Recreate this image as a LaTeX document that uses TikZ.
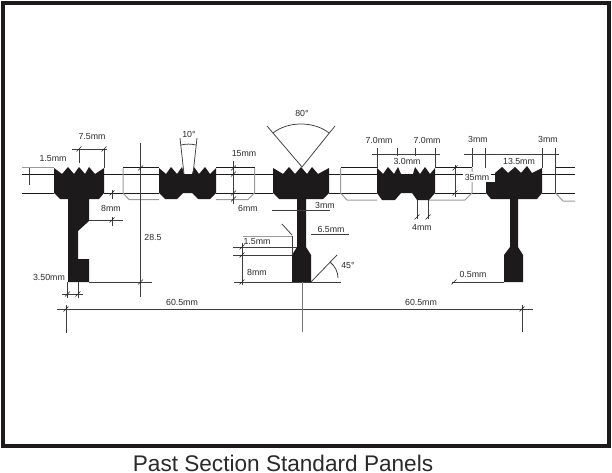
\documentclass[tikz,border=0pt]{standalone}
\usepackage{fontspec}
\setmainfont{Liberation Sans}
\definecolor{ink}{HTML}{1C1A1A}
\definecolor{gr}{HTML}{9A9A9A}
\definecolor{txt}{HTML}{2A2A2A}
\tikzset{
  dimline/.style={draw=ink!85,line width=0.75pt},
  grayline/.style={draw=gr,line width=1pt},
  blackline/.style={draw=ink,line width=0.8pt},
  section/.style={fill=ink,draw=none},
  lab/.style={font=\fontsize{8.8}{10}\selectfont,text=txt,inner sep=0pt},
  tk/.style={draw=ink,line width=0.5pt}
}
\newcommand{\ticks}[1]{\foreach \qa/\qb in {#1}{\draw[tk] (\qa-2.5,\qb+2.5) -- (\qa+2.5,\qb-2.5);}}
\begin{document}
\begin{tikzpicture}[x=1pt,y=-1pt]
\useasboundingbox (0,0) rectangle (612,473);
\fill[white] (0,0) rectangle (612,473);
% frame
\draw[ink,line width=4pt] (3,3) rectangle (609,446);

% rails: top, groove and bottom lines
\draw[blackline] (22,174) -- (54,174) (22,193) -- (54,193);
\draw[grayline] (22,167.5) -- (54,167.5);
\draw[dimline] (29,168) -- (29,185);
\draw[blackline] (104,174) -- (159,174) (104,193) -- (159,193) (123,167.5) -- (159,167.5);
\draw[grayline] (123,168) -- (123,193) -- (129,199.5) -- (159,199.5);
\draw[blackline] (216,174) -- (273,174) (216,193) -- (273,193) (216,167.5) -- (254.5,167.5);
\draw[grayline] (254.5,168) -- (254.5,193) -- (248,199.5) -- (216,199.5);
\draw[blackline] (329,174) -- (377,174) (329,193) -- (377,193) (340.5,167.5) -- (377,167.5);
\draw[grayline] (340.5,168) -- (340.5,193) -- (347,200) -- (377,200);
\draw[blackline] (435,174) -- (495,174) (435,193) -- (486,193) (435,167.5) -- (472,167.5);
\draw[grayline] (472,168) -- (472,193) -- (465,200) -- (429,200);
\draw[blackline] (542,174) -- (575,174) (542,193) -- (575,193) (555.5,167.5) -- (575,167.5);
\draw[grayline] (555.5,193) -- (563,201) -- (575,201);

% panel 1
\path[section] (54,168) -- (62,174) -- (68,167) -- (74,174) -- (79,167) -- (85,174) -- (89,167) -- (95,174) -- (104,168)
 -- (104,193) -- (99,199) -- (89,199) -- (89,221) -- (78,231) -- (78,259) -- (89,259) -- (89,282) -- (68,282) -- (68,199) -- (60,199) -- (54,193) -- cycle;
% panel 2
\path[section] (159,168) -- (166,174) -- (171,167) -- (177,174) -- (182,167) -- (184,174) -- (192,174) -- (194,167) -- (199,174) -- (205,167) -- (210,174) -- (216,168)
 -- (216,193) -- (210,199) -- (198,199) -- (192,193) -- (183,193) -- (177,199) -- (165,199) -- (159,193) -- cycle;
% panel 3
\path[section] (273,168) -- (283,174) -- (289,167) -- (295,174) -- (301,167) -- (307,174) -- (312,167) -- (318,174) -- (329,168)
 -- (329,193) -- (323,199) -- (306,199) -- (306,247) -- (311,255) -- (311,282) -- (292,282) -- (292,255) -- (297,247) -- (297,199) -- (279,199) -- (273,193) -- cycle;
% panel 4
\path[section] (377,168) -- (383,174) -- (388,167) -- (394,174) -- (398,167) -- (401,174) -- (413,174) -- (415,167) -- (420,174) -- (425,167) -- (430,174) -- (435,168)
 -- (435,193) -- (429,200) -- (417,200) -- (412,193) -- (401,193) -- (395,200) -- (382,200) -- (377,193) -- cycle;
% panel 5
\path[section] (486,182) -- (495,182) -- (495,173) -- (502,167) -- (508,173) -- (515,167) -- (521,173) -- (527,166) -- (532,173) -- (542,168)
 -- (542,193) -- (537,199) -- (518,199) -- (518,247) -- (523,255) -- (523,282) -- (504,282) -- (504,255) -- (510,247) -- (510,199) -- (491,199) -- (486,193) -- cycle;

% panel 1 dimensions
\draw[dimline] (72,149) -- (107,149) (79,149) -- (79,163) (104,149) -- (104,168);
\ticks{79/149,104/149}
\draw[dimline] (112,190) -- (112,199) (112,217) -- (112,226) (89,220) -- (123,220);
\ticks{112/193,112/220}
\draw[dimline] (140.5,143) -- (140.5,297) (89,282) -- (152,282);
\ticks{140.5/168,140.5/282}
\draw[dimline] (67.5,282) -- (67.5,298) (78,282) -- (78,298) (62,294) -- (83,294);
\ticks{67.5/294,78/294}
% panel 2 angle
\draw[dimline] (180,138) -- (184,174) (197,138) -- (193,174);
\draw[dimline] (181,145) to[bend left=12] (196,145);
% 15 / 6 mm
\draw[dimline] (233.5,161) -- (233.5,204);
\ticks{233.5/168,233.5/174,233.5/193,233.5/199}
% panel 3 dimensions
\draw[dimline] (267,126) -- (302,167) -- (335,126);
\draw[dimline] (273,133) .. controls (288,121) and (314,121) .. (329,133);
\draw[dimline] (272,210) -- (330,210);
\draw[dimline] (311,234) -- (349,234);
\draw[dimline] (282,224) -- (292,235);
\draw[grayline] (243,236) -- (292,236);
\draw[dimline] (292,236) -- (292,255);
\draw[dimline] (233,247) -- (297,247) (233,255) -- (292,255) (234,282) -- (341,282);
\draw[dimline] (242,243) -- (242,285);
\ticks{242/247,242/255,242/282}
\draw[dimline] (311,282) -- (337,255);
\draw[dimline] (330,262) .. controls (335,266) and (338,272) .. (338,278);
% panel 4 dimensions
\draw[dimline] (372,154) -- (440,154) (377,148) -- (377,168) (397.5,148) -- (397.5,156) (415,148) -- (415,156) (435,148) -- (435,168);
\draw[dimline] (455,165) -- (455,197);
\ticks{455/168,455/193}
\draw[dimline] (417,200) -- (417,219) (428,200) -- (428,219);
\ticks{417/217,428/217}
% panel 5 dimensions
\draw[dimline] (464,154) -- (559,154) (472,148) -- (472,167) (485.5,148) -- (485.5,168) (542,148) -- (542,168) (555.5,148) -- (555.5,193);
\draw[dimline] (452,282) -- (504,282);
\ticks{454/282}
% overall dimension
\draw[dimline] (57,309) -- (533,309) (66,305) -- (66,333) (522,305) -- (522,332);
\draw[draw=ink!60,line width=0.8pt] (302,282) -- (302,332);
\ticks{66/309,522/309}

% labels
\node[lab] (l1) at (53,159) {1.5mm};
\node[lab] (l2) at (92,137) {7.5mm};
\node[lab] (l3) at (189,134) {10°};
\node[lab] (l4) at (111,208) {8mm};
\node[lab] (l5) at (153,237) {28.5};
\node[lab] (l6) at (49,277) {3.50mm};
\node[lab] (l7) at (182,302) {60.5mm};
\node[lab] (l8) at (421,302) {60.5mm};
\node[lab] (l9) at (302,113) {80°};
\node[lab] (l10) at (244,154) {15mm};
\node[lab] (l11) at (248,208) {6mm};
\node[lab] (l12) at (325,205) {3mm};
\node[lab] (l13) at (331,229) {6.5mm};
\node[lab] (l14) at (257,242) {1.5mm};
\node[lab] (l15) at (257,272) {8mm};
\node[lab] (l16) at (348,265) {45°};
\node[lab] (l17) at (379,140) {7.0mm};
\node[lab] (l18) at (427,140) {7.0mm};
\node[lab] (l19) at (407,161) {3.0mm};
\node[lab,fill=white,inner sep=2pt] (l20) at (477,177) {35mm};
\node[lab] (l21) at (422,227) {4mm};
\node[lab] (l22) at (478,139) {3mm};
\node[lab] (l23) at (548,139) {3mm};
\node[lab] (l24) at (519,161) {13.5mm};
\node[lab] (l25) at (473,274) {0.5mm};
\node[font=\fontsize{22.6}{26}\selectfont,text=txt,inner sep=0pt,anchor=base] (title) at (283,471) {Past Section Standard Panels};
\end{tikzpicture}
\end{document}
